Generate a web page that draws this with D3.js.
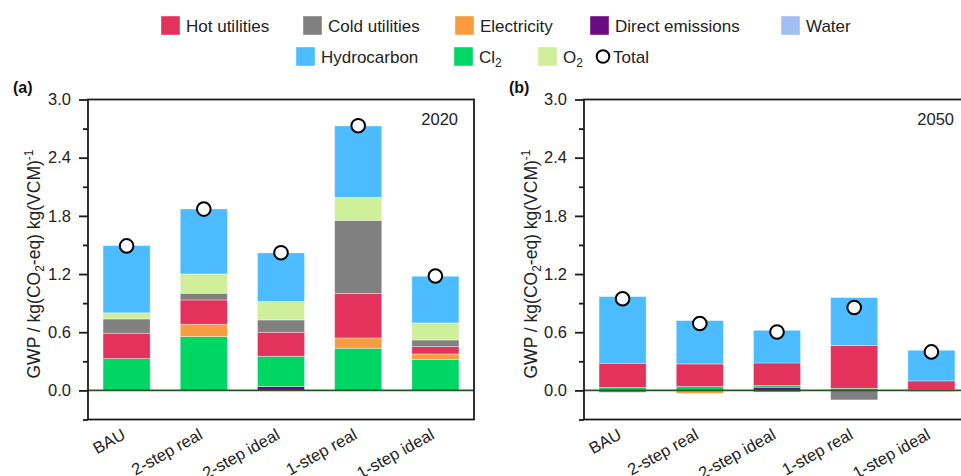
<!DOCTYPE html>
<html>
<head>
<meta charset="utf-8">
<script src="https://cdn.jsdelivr.net/npm/d3@7"></script>
<style>
  html, body { margin: 0; padding: 0; background: #fff; }
  svg { display: block; font-family: "Liberation Sans", Arial, sans-serif; }
</style>
</head>
<body>
<svg id="chart" width="961" height="476"></svg>
<script>
// ---------- DATA ----------
const categories = ["BAU", "2-step real", "2-step ideal", "1-step real", "1-step ideal"];
const seriesKeys = ["direct", "cl2", "electricity", "hot", "cold", "water", "o2", "hydro"];

// 2020 (panel a)
const direct2020      = [0, 0, 0.04, 0, 0];
const cl2_2020        = [0.328, 0.555, 0.312, 0.435, 0.321];
const electricity2020 = [0, 0.127, 0, 0.106, 0.055];
const hot2020         = [0.262, 0.251, 0.248, 0.457, 0.076];
const cold2020        = [0.147, 0.069, 0.127, 0.756, 0.068];
const water2020       = [0, 0, 0, 0, 0];
const o2_2020         = [0.063, 0.199, 0.189, 0.236, 0.176];
const hydro2020       = [0.693, 0.670, 0.502, 0.737, 0.481];
const total2020       = [1.49, 1.87, 1.42, 2.73, 1.18];

// 2050 (panel b)
const direct2050      = [0, 0, 0.033, 0, 0];
const cl2_2050        = [0.03, 0.04, 0.017, 0.022, 0.005];
const electricity2050 = [0, -0.03, 0, 0, 0];
const hot2050         = [0.25, 0.233, 0.233, 0.44, 0.093];
const cold2050        = [-0.02, 0, -0.017, -0.098, -0.01];
const water2050       = [0, 0, 0, 0, 0];
const o2_2050         = [0, 0, 0, 0, 0];
const hydro2050       = [0.687, 0.447, 0.337, 0.495, 0.316];
const total2050       = [0.945, 0.69, 0.603, 0.855, 0.397];

const yTicksMajor = [0, 0.6, 1.2, 1.8, 2.4, 3.0];
const yTicksMinor = [-0.3, 0.3, 0.9, 1.5, 2.1, 2.7];

const colors = {
  hot: "#e3325b", cold: "#808080", electricity: "#f99c3f", direct: "#6b0a85",
  water: "#a1bff2", hydro: "#4dbbff", cl2: "#00d664", o2: "#cfef9a"
};

function buildRows(d, e, h, c, w, o, hy, cl, t) {
  return categories.map((cat, i) => ({
    cat, direct: d[i], cl2: cl[i], electricity: e[i], hot: h[i], cold: c[i],
    water: w[i], o2: o[i], hydro: hy[i], total: t[i]
  }));
}
const rows2020 = buildRows(direct2020, electricity2020, hot2020, cold2020, water2020, o2_2020, hydro2020, cl2_2020, total2020);
const rows2050 = buildRows(direct2050, electricity2050, hot2050, cold2050, water2050, o2_2050, hydro2050, cl2_2050, total2050);

// ---------- DRAW ----------
const svg = d3.select("#chart");
const plotTop = 99.5, plotBottom = 419.5, panelW = 386;
const y = d3.scaleLinear().domain([-0.3, 3.0]).range([plotBottom, plotTop]);
const axisColor = "#1a1a1a";

function drawPanel(rows, left, tag, year, titleX) {
  const g = svg.append("g");
  const x = d3.scaleBand().domain(categories).range([left, left + panelW]).padding(0);
  const barW = x.bandwidth() * 0.61;

  const stack = d3.stack().keys(seriesKeys).offset(d3.stackOffsetDiverging);
  const layers = stack(rows);

  layers.forEach(layer => {
    g.append("g").selectAll("rect").data(layer).join("rect")
      .attr("x", d => x(d.data.cat) + (x.bandwidth() - barW) / 2)
      .attr("width", barW)
      .attr("y", d => y(Math.max(d[0], d[1])))
      .attr("height", d => Math.abs(y(d[0]) - y(d[1])))
      .attr("fill", colors[layer.key])
      .attr("stroke", "rgba(255,255,255,0.45)")
      .attr("stroke-width", 0.8);
  });

  // zero line
  g.append("line")
    .attr("x1", left).attr("x2", left + panelW)
    .attr("y1", y(0)).attr("y2", y(0))
    .attr("stroke", "#1f5a22").attr("stroke-width", 1.6);

  // totals
  g.append("g").selectAll("circle").data(rows).join("circle")
    .attr("cx", d => x(d.cat) + x.bandwidth() / 2)
    .attr("cy", d => y(d.total))
    .attr("r", 6.8)
    .attr("fill", "#fff").attr("stroke", "#000").attr("stroke-width", 2);

  // frame
  g.append("rect")
    .attr("x", left).attr("y", plotTop).attr("width", panelW).attr("height", plotBottom - plotTop)
    .attr("fill", "none").attr("stroke", axisColor).attr("stroke-width", 1.8);

  // y axis
  const yAxis = d3.axisLeft(y).tickValues(yTicksMajor).tickSize(9).tickPadding(8)
    .tickFormat(d3.format(".1f"));
  const ya = g.append("g").attr("transform", `translate(${left},0)`).call(yAxis);
  ya.select(".domain").remove();
  ya.selectAll("line").attr("stroke", axisColor).attr("stroke-width", 1.8);
  ya.selectAll("text").attr("font-size", 16.5).attr("fill", "#222")
    .attr("font-family", "Liberation Sans, Arial, sans-serif");
  const yMinor = d3.axisLeft(y).tickValues(yTicksMinor).tickSize(5).tickFormat("");
  const ym = g.append("g").attr("transform", `translate(${left},0)`).call(yMinor);
  ym.select(".domain").remove();
  ym.selectAll("line").attr("stroke", axisColor).attr("stroke-width", 1.8);

  // x labels
  g.append("g").selectAll("text").data(categories).join("text")
    .attr("transform", d => `translate(${x(d) + x.bandwidth() / 2},438) rotate(-29)`)
    .attr("text-anchor", "end")
    .attr("font-size", 16.5).attr("fill", "#222")
    .text(d => d);

  // y title
  const t = g.append("text")
    .attr("transform", `translate(${titleX},264) rotate(-90)`)
    .attr("text-anchor", "middle")
    .attr("font-size", 17.5).attr("fill", "#222");
  t.append("tspan").text("GWP / kg(CO");
  t.append("tspan").attr("font-size", 12).attr("dy", 4).text("2");
  t.append("tspan").attr("dy", -4).text("-eq) kg(VCM)");
  t.append("tspan").attr("font-size", 12).attr("dy", -7).text("-1");

  // panel tag
  g.append("text").attr("x", left - 75).attr("y", 93)
    .attr("font-size", 16).attr("font-weight", "bold").attr("fill", "#111").text(tag);
  // year
  g.append("text").attr("x", left + panelW - 16).attr("y", 125)
    .attr("text-anchor", "end").attr("font-size", 16.5).attr("fill", "#222").text(year);
}

drawPanel(rows2020, 88, "(a)", "2020", 40);
drawPanel(rows2050, 584, "(b)", "2050", 537);

// ---------- LEGEND ----------
const legendItems = [
  { key: "hot", label: "Hot utilities", x: 161, row: 0 },
  { key: "cold", label: "Cold utilities", x: 303, row: 0 },
  { key: "electricity", label: "Electricity", x: 455, row: 0 },
  { key: "direct", label: "Direct emissions", x: 590, row: 0 },
  { key: "water", label: "Water", x: 781, row: 0 },
  { key: "hydro", label: "Hydrocarbon", x: 296, row: 1 },
  { key: "cl2", label: "Cl", sub: "2", x: 454, row: 1 },
  { key: "o2", label: "O", sub: "2", x: 538, row: 1 },
  { key: "total", label: "Total", x: 598, row: 1 }
];
const rowY = [16, 47];
const lg = svg.append("g");
legendItems.forEach(it => {
  const yy = rowY[it.row];
  if (it.key === "total") {
    lg.append("circle").attr("cx", it.x + 5).attr("cy", yy + 9.5).attr("r", 6.3)
      .attr("fill", "#fff").attr("stroke", "#000").attr("stroke-width", 2);
    lg.append("text").attr("x", it.x + 15).attr("y", yy + 15.5)
      .attr("font-size", 17).attr("fill", "#222").text(it.label);
    return;
  }
  lg.append("rect").attr("x", it.x).attr("y", yy).attr("width", 19).attr("height", 19)
    .attr("fill", colors[it.key]).attr("stroke", "rgba(255,255,255,0.5)").attr("stroke-width", 0.8);
  const tx = lg.append("text").attr("x", it.x + 25).attr("y", yy + 15.5)
    .attr("font-size", 17).attr("fill", "#222");
  tx.append("tspan").text(it.label);
  if (it.sub) tx.append("tspan").attr("font-size", 12).attr("dy", 4).text(it.sub);
});
</script>
</body>
</html>
